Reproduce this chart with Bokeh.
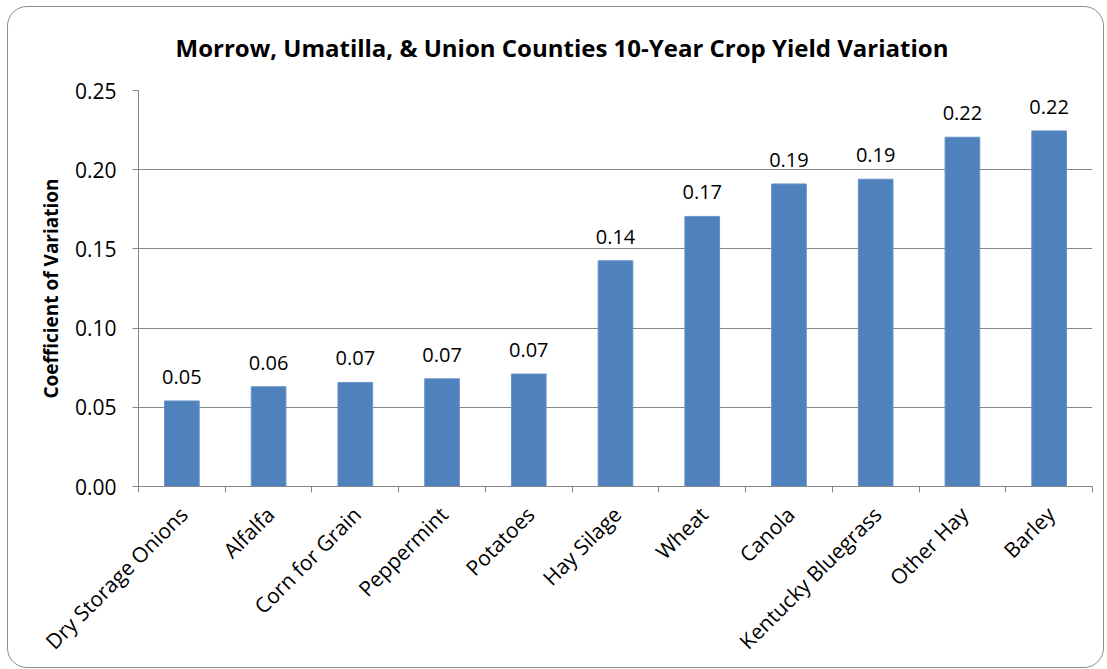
import math
from bokeh.plotting import figure
from bokeh.layouts import column
from bokeh.models import FixedTicker, Range1d, NumeralTickFormatter, ColumnDataSource
from bokeh.core.properties import value
from bokeh.embed import file_html
from bokeh.resources import INLINE

crops = ["Dry Storage Onions", "Alfalfa", "Corn for Grain", "Peppermint", "Potatoes",
         "Hay Silage", "Wheat", "Canola", "Kentucky Bluegrass", "Other Hay", "Barley"]
cv = [0.054, 0.063, 0.0657, 0.068, 0.071, 0.1425, 0.1705, 0.191, 0.194, 0.2205, 0.2245]
y_ticks = [0.0, 0.05, 0.10, 0.15, 0.20, 0.25]
title_text = "Morrow, Umatilla, & Union Counties 10-Year Crop Yield Variation"
y_label = "Coefficient of Variation"

FONT = "Open Sans"
GRAY = "#868686"
BAR = "#4F81BD"

n = len(crops)
centers = [i + 0.5 for i in range(n)]
label_pos = [c + 0.02 for c in centers]
src = ColumnDataSource(dict(x=centers, top=cv, lab=[f"{v:.2f}" for v in cv]))

p = figure(width=1095, height=667, output_backend="svg", toolbar_location=None,
           x_range=Range1d(0, n), y_range=Range1d(y_ticks[0], y_ticks[-1]),
           min_border_left=130, min_border_right=11, min_border_top=90, min_border_bottom=180)
p.styles = {"margin-top": "-7px"}
p.outline_line_color = None
p.border_fill_alpha = 0

p.title.text = title_text
p.title.text_font = FONT
p.title.text_font_size = "24px"
p.title.text_font_style = "bold"
p.title.text_color = "#000000"
p.title.text_line_height = 0.8
p.title.align = "left"
p.title.offset = 37
p.title.standoff = 53

p.vbar(x="x", top="top", width=0.4, bottom=0, source=src, fill_color=BAR, line_color="#6a93c9", line_width=1)
p.text(x="x", y="top", text="lab", source=src, text_align="center", text_baseline="alphabetic",
       y_offset=-24, text_font=value(FONT), text_font_size="20px", text_color="#000000")

xa = p.xaxis[0]
xa.ticker = FixedTicker(ticks=label_pos, minor_ticks=list(range(n + 1)))
xa.major_label_overrides = {c: name for c, name in zip(label_pos, crops)}
xa.major_label_orientation = math.pi / 4
xa.major_tick_line_color = None
xa.minor_tick_line_color = GRAY
xa.minor_tick_in = 0
xa.minor_tick_out = 6
xa.axis_line_color = GRAY
xa.major_label_text_font = FONT
xa.major_label_text_font_size = "21px"
xa.major_label_text_color = "#000000"
xa.major_label_standoff = 18

ya = p.yaxis[0]
ya.ticker = FixedTicker(ticks=y_ticks)
ya.formatter = NumeralTickFormatter(format="0.00")
ya.major_tick_in = 0
ya.major_tick_out = 6
ya.major_tick_line_color = GRAY
ya.minor_tick_line_color = None
ya.axis_line_color = GRAY
ya.major_label_text_font = FONT
ya.major_label_text_font_size = "21px"
ya.major_label_text_color = "#000000"
ya.major_label_standoff = 16
ya.axis_label = y_label
ya.axis_label_text_font = FONT
ya.axis_label_text_font_size = "19px"
ya.axis_label_text_font_style = "bold"
ya.axis_label_text_color = "#000000"
ya.axis_label_standoff = 8

p.xgrid.grid_line_color = None
p.ygrid.ticker = FixedTicker(ticks=y_ticks)
p.ygrid.grid_line_color = GRAY
p.ygrid.grid_line_width = 1

layout = column(p, styles={"border": "1px solid #8c8c8c", "border-radius": "20px",
                           "margin-left": "7px", "margin-top": "6px"})

open("out.html", "w").write(file_html(layout, INLINE))
